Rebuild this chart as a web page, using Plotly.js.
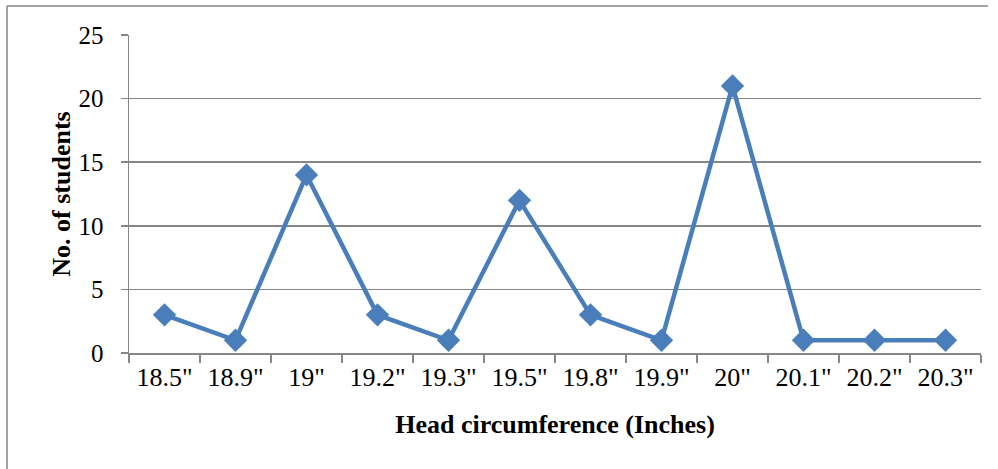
<!DOCTYPE html>
<html>
<head>
<meta charset="utf-8">
<script src="https://cdn.plot.ly/plotly-3.0.1.min.js"></script>
<style>
  html, body { margin: 0; padding: 0; background: #fff; }
  #chart { width: 998px; height: 469px; }
</style>
</head>
<body>
<div id="chart"></div>
<script>
// Head circumference categories and student counts
const sizes = ['18.5"', '18.9"', '19"', '19.2"', '19.3"', '19.5"', '19.8"', '19.9"', '20"', '20.1"', '20.2"', '20.3"'];
const students = [3, 1, 14, 3, 1, 12, 3, 1, 21, 1, 1, 1];
const yTicks = [0, 5, 10, 15, 20, 25];

const gray = '#868686';
const blue = '#4a7ebb';
const serif = '"Liberation Serif", "Times New Roman", serif';

const trace = {
  x: sizes,
  y: students,
  type: 'scatter',
  mode: 'lines+markers',
  line: { color: blue, width: 4.5 },
  marker: { symbol: 'diamond', size: 18, color: blue },
  cliponaxis: false,
  hoverinfo: 'x+y'
};

const layout = {
  width: 998,
  height: 469,
  margin: { l: 129, r: 17, t: 35, b: 116 },
  paper_bgcolor: '#fff',
  plot_bgcolor: '#fff',
  showlegend: false,
  font: { family: serif, size: 26, color: '#000' },
  xaxis: {
    type: 'category',
    range: [-0.5, sizes.length - 0.5],
    tickson: 'boundaries',
    ticks: 'outside',
    ticklen: 8,
    tickwidth: 1.5,
    tickcolor: gray,
    showline: true,
    linecolor: gray,
    linewidth: 1.5,
    showgrid: false,
    zeroline: false,
    tickfont: { family: serif, size: 26 },
    title: { text: '<b>Head circumference (Inches)</b>', font: { family: serif, size: 26 }, standoff: 24 }
  },
  yaxis: {
    range: [0, 25],
    tickvals: yTicks,
    ticks: 'outside',
    ticklen: 7,
    tickwidth: 1.5,
    tickcolor: gray,
    showline: true,
    linecolor: gray,
    linewidth: 1.5,
    showgrid: true,
    gridcolor: gray,
    gridwidth: 1.5,
    zeroline: false,
    ticklabelstandoff: 12,
    tickfont: { family: serif, size: 25 },
    title: { text: '<b>No. of students</b>', font: { family: serif, size: 26 }, standoff: 0 }
  },
  shapes: [
    // outer frame: top and left edges
    { type: 'line', xref: 'paper', yref: 'paper', x0: -0.1432, x1: 1.0082, y0: 1.0912, y1: 1.0912, line: { color: gray, width: 1.5 } },
    { type: 'line', xref: 'paper', yref: 'paper', x0: -0.1432, x1: -0.1432, y0: 1.0912, y1: -0.37, line: { color: gray, width: 1.5 } }
  ]
};

Plotly.newPlot('chart', [trace], layout, { displayModeBar: false, staticPlot: true });
</script>
</body>
</html>
